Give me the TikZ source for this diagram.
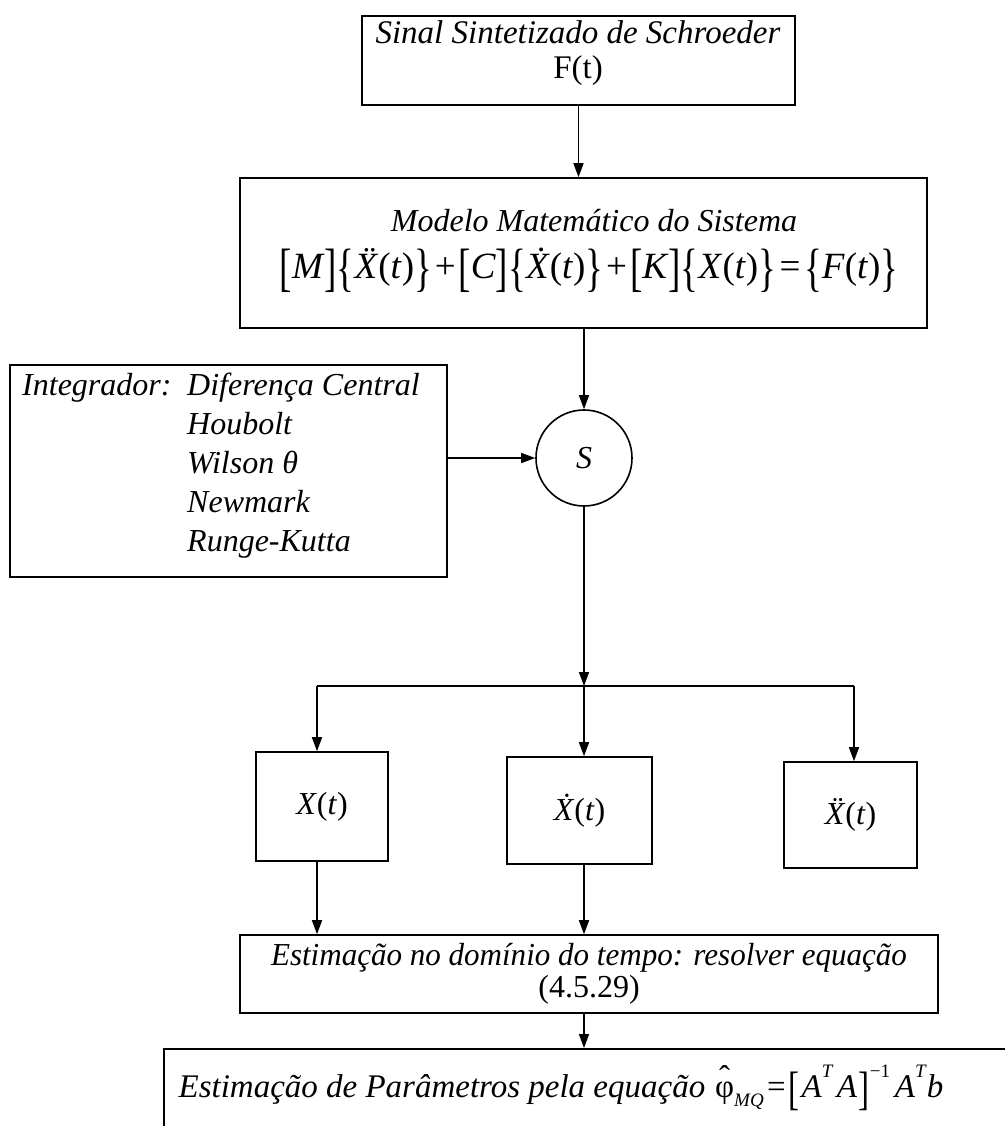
\documentclass[tikz,border=0pt]{standalone}
\usepackage{fontspec}
\setmainfont{Liberation Serif}
\usetikzlibrary{arrows.meta}
\newcommand{\tallbr}[1]{\raisebox{-0.2em}{\scalebox{1}[1.42]{#1}}}
\newcommand{\supsc}[1]{\raisebox{0.6em}{\fontsize{19}{19}\selectfont #1}}
\newcommand{\subsc}[1]{\raisebox{-0.28em}{\fontsize{19}{19}\selectfont #1}}
\newcommand{\phihat}{\ooalign{φ\cr\hidewidth\raisebox{0.28em}{\symbol{"02C6}}\hidewidth\cr}}
\begin{document}
\begin{tikzpicture}[x=1pt,y=-1pt,
  every node/.style={font=\fontsize{32}{37}\selectfont, inner sep=0pt},
  box/.style={draw, line width=1.6pt, rectangle},
  arr/.style={line width=1.6pt, -{Triangle[length=14pt,width=10pt]}},
  ln/.style={line width=1.6pt}]
\useasboundingbox (0,0) rectangle (1004,1126);

% top box
\node[box, minimum width=433pt, minimum height=89pt] (src) at (578.5,60.5) {};
\node[align=center, font=\fontsize{33}{34.5}\selectfont] (srct) at (578,53)
  {\textit{Sinal Sintetizado de Schroeder}\\F(t)};

% model box
\node[box, minimum width=687pt, minimum height=150pt] (model) at (583.5,253) {};
\node (modt1) at (594,221) {\textit{Modelo Matemático do Sistema}};
\node[font=\fontsize{37}{40}\selectfont] (modt2) at (589,270)
  {\tallbr{[}\textit{M}\tallbr{]}\tallbr{\{}\textit{\"X}(\textit{t})\tallbr{\}}\kern0.08em+\kern0.08em\tallbr{[}\textit{C}\tallbr{]}\tallbr{\{}\textit{\.X}(\textit{t})\tallbr{\}}\kern0.08em+\kern0.08em\tallbr{[}\textit{K}\tallbr{]}\tallbr{\{}\textit{X}(\textit{t})\tallbr{\}}\kern0.1em=\kern0.1em\tallbr{\{}\textit{F}(\textit{t})\tallbr{\}}};

% integrator box
\node[box, minimum width=437pt, minimum height=212pt] (integ) at (228.5,471) {};
\node[anchor=base west] (it0) at (22,395) {\textit{Integrador:}};
\node[anchor=base west] (it1) at (187,395) {\textit{Diferença Central}};
\node[anchor=base west] (it2) at (187,434) {\textit{Houbolt}};
\node[anchor=base west] (it3) at (187,473) {\textit{Wilson θ}};
\node[anchor=base west] (it4) at (187,512) {\textit{Newmark}};
\node[anchor=base west] (it5) at (187,551) {\textit{Runge-Kutta}};

% summing circle
\node[draw, circle, line width=1.6pt, minimum size=96pt] (S) at (584,458) {\textit{S}};

% junction
\coordinate (j) at (584,686);
\coordinate (jl) at (317,686);
\coordinate (jr) at (854,686);

% three state boxes
\node[box, minimum width=132pt, minimum height=109pt] (x1) at (322,806.5) {\textit{X}(\textit{t})};
\node[box, minimum width=145pt, minimum height=107pt] (x2) at (579.5,810.5) {\textit{\.X}(\textit{t})};
\node[box, minimum width=133pt, minimum height=106pt] (x3) at (850.5,815) {\textit{\"X}(\textit{t})};

% estimation box
\node[box, minimum width=698pt, minimum height=78pt] (est) at (589,974) {};
\node[align=center, font=\fontsize{32}{32}\selectfont] (estt) at (589,974)
  {\scalebox{0.97}[1]{\textit{Estimação no domínio do tempo: resolver equação}}\\(4.5.29)};

% parameter box
\node[box, anchor=north west, minimum width=900pt, minimum height=120pt] (par) at (163,1048) {};
\node[font=\fontsize{33}{37}\selectfont] (part) at (561,1088) {\textit{Estimação de Parâmetros pela equação}\kern0.3em\phihat\subsc{\textit{MQ}}\kern0.1em=\kern0.1em\tallbr{[}\kern0.05em\textit{A}\supsc{\textit{T}}\kern0.1em\textit{A}\kern0.05em\tallbr{]}\supsc{−1}\kern0.15em\textit{A}\supsc{\textit{T}}\textit{b}};

% connectors
\draw[arr] (src.south) -- (src.south |- model.north);
\draw[arr] (S.north |- model.south) -- (S.north);
\draw[arr] (integ.east |- S.west) -- (S.west);
\draw[arr] (S.south) -- (j);
\draw[ln] (jl) -- (jr);
\draw[arr] (jl) -- (jl |- x1.north);
\draw[arr] (j) -- (j |- x2.north);
\draw[arr] (jr) -- (jr |- x3.north);
\draw[arr] (x1.south -| jl) -- (jl |- est.north);
\draw[arr] (x2.south -| j) -- (j |- est.north);
\draw[arr] (est.south -| j) -- (j |- par.north);
\end{tikzpicture}
\end{document}
